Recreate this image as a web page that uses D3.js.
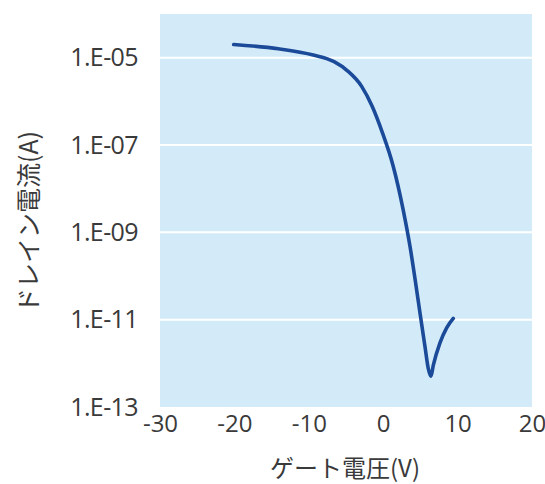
<!DOCTYPE html>
<html>
<head>
<meta charset="utf-8">
<script src="https://cdn.jsdelivr.net/npm/d3@7"></script>
<style>
  html, body { margin: 0; padding: 0; background: #ffffff; }
  svg { display: block; }
</style>
</head>
<body>
<svg id="chart" width="545" height="484"></svg>
<script>
// Gate voltage (V) vs drain current (A), transfer characteristic
const gateVoltage = [-20.1, -14.1, -9.4, -6.6, -4.8, -2.9, -1.5, -0.1, 1.3, 2.7, 3.6, 4.3, 4.95, 5.62, 6.06, 6.42, 6.73, 7.63, 8.53, 9.42];
const drainCurrent = [2.0e-5, 1.6e-5, 1.15e-5, 8.1e-6, 5.0e-6, 2.2e-6, 7.8e-7, 1.9e-7, 3.5e-8, 3.2e-9, 4.8e-10, 8.1e-11, 1.4e-11, 2.4e-12, 7.6e-13, 5.1e-13, 9.0e-13, 2.95e-12, 6.5e-12, 1.07e-11];
const xTicks = [-30, -20, -10, 0, 10, 20];
const yTicks = [1e-5, 1e-7, 1e-9, 1e-11, 1e-13];
const yTickLabels = ["1.E-05", "1.E-07", "1.E-09", "1.E-11", "1.E-13"];
const xTitle = "ゲート電圧(V)";
const yTitle = "ドレイン電流(A)";

const svg = d3.select("#chart");
const plot = { left: 160, right: 532, top: 14, bottom: 407 };

const x = d3.scaleLinear().domain([-30, 20]).range([plot.left, plot.right]);
const y = d3.scaleLog().domain([1e-13, 1e-4]).range([plot.bottom, plot.top]);

// plot background
svg.append("rect")
  .attr("x", plot.left).attr("y", plot.top)
  .attr("width", plot.right - plot.left)
  .attr("height", plot.bottom - plot.top)
  .attr("fill", "#d3ebf9");

// horizontal gridlines
svg.append("g")
  .selectAll("line")
  .data(yTicks.slice(0, -1))
  .join("line")
  .attr("x1", plot.left).attr("x2", plot.right)
  .attr("y1", d => y(d)).attr("y2", d => y(d))
  .attr("stroke", "#ffffff").attr("stroke-width", 2);

const numFont = "'Open Sans', 'Noto Sans', sans-serif";
const cjkFont = "'Noto Sans CJK JP', sans-serif";
const textColor = "#3a3a3a";

// y axis
const yAxis = svg.append("g")
  .attr("transform", `translate(${plot.left},0)`)
  .call(d3.axisLeft(y).tickValues(yTicks).tickSize(0).tickPadding(22)
    .tickFormat((d, i) => yTickLabels[i]));
yAxis.select(".domain").remove();
yAxis.selectAll("text")
  .attr("font-family", numFont).attr("font-size", 25)
  .attr("letter-spacing", -0.6).attr("fill", textColor);

// x axis (plain hyphen for negative values)
const xAxis = svg.append("g")
  .attr("transform", `translate(0,${plot.bottom})`)
  .call(d3.axisBottom(x).tickValues(xTicks).tickSize(0).tickPadding(8)
    .tickFormat(d => String(d)));
xAxis.select(".domain").remove();
xAxis.selectAll("text")
  .attr("font-family", numFont).attr("font-size", 24).attr("fill", textColor);

// axis titles
svg.append("text")
  .attr("x", 345).attr("y", 477)
  .attr("text-anchor", "middle")
  .attr("font-family", cjkFont).attr("font-size", 24).attr("fill", textColor)
  .text(xTitle);

svg.append("text")
  .attr("transform", `translate(38,222) rotate(-90)`)
  .attr("text-anchor", "middle")
  .attr("font-family", cjkFont).attr("font-size", 25).attr("fill", textColor)
  .text(yTitle);

// transfer curve
const points = gateVoltage.map((v, i) => [v, drainCurrent[i]]);
const line = d3.line()
  .x(d => x(d[0]))
  .y(d => y(d[1]))
  .curve(d3.curveMonotoneX);

svg.append("path")
  .datum(points)
  .attr("d", line)
  .attr("fill", "none")
  .attr("stroke", "#1b4a99")
  .attr("stroke-width", 3.6)
  .attr("stroke-linecap", "round")
  .attr("stroke-linejoin", "round");
</script>
</body>
</html>
